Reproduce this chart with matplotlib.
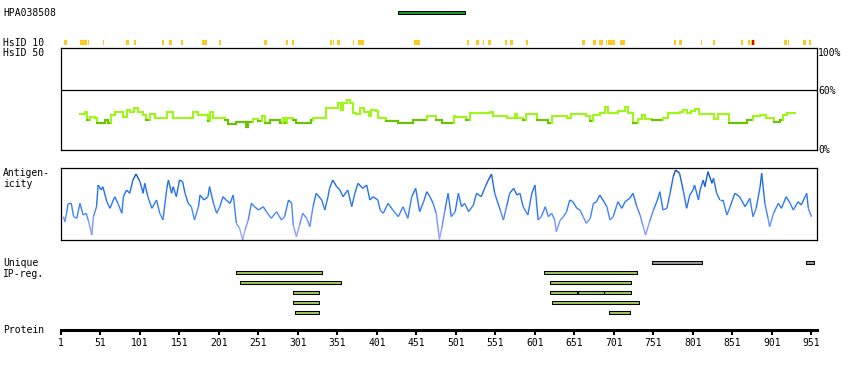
import matplotlib
matplotlib.use("Agg")
import matplotlib.pyplot as plt
import numpy as np
from matplotlib.collections import LineCollection
from matplotlib.colors import LinearSegmentedColormap

plt.rcParams['font.family'] = ['DejaVu Sans Mono']

# ---- data ----
protein_len = 958
tick_res = [1, 51, 101, 151, 201, 251, 301, 351, 401, 451, 501, 551, 601, 651, 701, 751, 801, 851, 901, 951]

hpa_name = "HPA038508"
hpa_start, hpa_end = 427, 512

# HsID 10 marks (residue start, end)
hsid10_start = [5, 25, 35, 54, 83, 93, 129, 138, 153, 180, 201, 258, 286, 293, 341, 345, 350, 371, 377, 448,
                515, 526, 535, 541, 563, 570, 589, 660, 675, 682, 691, 694, 709, 777, 783, 811, 826, 862, 871,
                874, 916, 921, 940, 948]
hsid10_end = [8, 34, 36, 56, 87, 96, 131, 141, 155, 186, 203, 262, 288, 296, 344, 347, 354, 372, 384, 455,
              517, 530, 537, 545, 565, 573, 592, 664, 678, 687, 692, 702, 715, 779, 787, 813, 829, 864, 873,
              879, 920, 922, 944, 950]
hsid10_red_start = [260, 876]
hsid10_red_end = [261, 878]

# HsID 50 identity (%)
hsid50_res = [25, 31, 34, 38, 44, 46, 52, 57, 61, 64, 69, 76, 79, 84, 88, 94, 99, 105, 109, 114, 118, 120, 130,
              135, 139, 143, 164, 168, 175, 185, 187, 190, 194, 206, 209, 213, 219, 223, 230, 235, 238, 244,
              251, 256, 259, 263, 265, 274, 278, 282, 284, 287, 295, 299, 316, 318, 320, 333, 336, 350, 352,
              355, 358, 363, 367, 371, 375, 379, 384, 388, 391, 394, 400, 402, 411, 413, 426, 428, 445, 447,
              458, 464, 474, 476, 483, 498, 499, 500, 512, 514, 519, 540, 544, 548, 563, 565, 576, 578, 582,
              586, 590, 599, 603, 616, 618, 622, 637, 641, 647, 662, 666, 671, 675, 683, 690, 694, 700, 706,
              715, 719, 725, 732, 736, 740, 749, 761, 763, 770, 780, 784, 789, 793, 799, 803, 808, 822, 827,
              833, 843, 846, 865, 869, 877, 886, 894, 903, 911, 915, 920, 930]
hsid50_val = [35.7, 38.3, 30, 32.7, 31.7, 27.3, 27.3, 30, 27.3, 35, 38.3, 38.3, 33.3, 40, 37.7, 42.3, 37.7, 35,
              30, 36.3, 35.7, 31.7, 31.7, 38.3, 38.3, 31.7, 31.7, 38.3, 34.7, 34.7, 29, 38.3, 31.7, 31.7, 30,
              25.7, 25.7, 28, 28, 23.3, 27.7, 30.7, 29.3, 34, 27.3, 27.3, 30, 30, 27.3, 32.3, 27.3, 31.7, 30,
              27.3, 27.3, 30, 31.7, 31.7, 41.7, 42, 46.7, 40, 46.7, 50, 46.7, 37.3, 35.7, 41.7, 38.3, 37.7,
              34, 40, 39.3, 31.7, 31.7, 29.3, 29.3, 27.3, 27.3, 30, 30, 34.3, 34.3, 30, 27.3, 27.3, 34, 32.7,
              32.7, 30, 36.7, 36.7, 38.3, 34.3, 34.3, 31.7, 36, 31.7, 31.7, 30, 36, 36, 30, 30, 27.3, 34, 34,
              31.7, 36, 36, 34, 29.3, 35, 36.7, 42.7, 36.7, 37.3, 39.3, 42.7, 36.7, 27.3, 30.7, 35, 30.7, 30,
              30, 32.3, 36.7, 36.7, 38.3, 40, 36.7, 39.3, 40.7, 35.7, 35.7, 30.7, 36, 36, 27.3, 27.3, 30,
              34.3, 35, 31.7, 28.3, 30, 35, 36.7, 36.7]

# Antigenicity (pixel height inside the 72 px panel)
antig_res = [4, 6, 8, 10, 14, 17, 21, 25, 29, 33, 36, 40, 42, 46, 48, 52, 54, 59, 63, 69, 73, 78, 80, 84, 88,
             92, 96, 101, 105, 107, 111, 116, 122, 126, 130, 135, 137, 141, 143, 147, 151, 155, 158, 162, 166,
             170, 175, 177, 182, 187, 189, 194, 198, 202, 206, 210, 215, 219, 223, 227, 231, 234, 238, 242,
             246, 251, 257, 261, 267, 274, 280, 284, 289, 293, 295, 299, 303, 307, 312, 316, 320, 324, 331,
             335, 339, 341, 345, 350, 354, 358, 364, 369, 373, 377, 383, 388, 392, 396, 402, 405, 409, 415,
             421, 428, 434, 440, 445, 450, 455, 460, 464, 468, 472, 476, 480, 483, 487, 491, 495, 500, 504,
             508, 512, 517, 523, 527, 533, 538, 542, 546, 550, 557, 561, 565, 569, 574, 578, 582, 586, 592,
             597, 601, 605, 609, 614, 618, 622, 626, 628, 633, 637, 641, 645, 649, 654, 658, 662, 666, 671,
             675, 679, 683, 687, 692, 696, 700, 706, 711, 715, 721, 725, 730, 734, 738, 741, 746, 751, 756,
             759, 763, 768, 772, 776, 779, 784, 789, 793, 797, 801, 803, 808, 810, 814, 816, 820, 825, 827,
             831, 835, 839, 844, 848, 854, 860, 867, 873, 877, 881, 886, 888, 892, 896, 898, 903, 909, 913,
             919, 924, 928, 934, 938, 945, 947, 951]
antig_val = [23.3, 18.3, 26.7, 36.7, 36.7, 23.3, 21.7, 36.7, 25, 26.7, 18.3, 5, 23.3, 33.3, 55, 50, 53.3, 38.3,
             31.7, 43.3, 36.7, 26.7, 43.3, 50, 46.7, 60, 66, 58.3, 46.7, 56.7, 43.3, 31.7, 40, 26.7, 20, 51.7,
             60, 46.7, 53.3, 43.3, 60, 58.3, 46.7, 36.7, 33.3, 20, 33.3, 45, 40, 43.3, 53.3, 36.7, 26.7, 33.3,
             43.3, 40, 36.7, 45, 16.7, 11.7, 0, 10, 20, 36.7, 33.3, 30, 33.3, 28.3, 21.7, 28.3, 20, 23.3, 40,
             36.7, 15, 3.3, 15, 26.7, 21.7, 13.3, 33.3, 46.7, 40, 30, 43.3, 51.7, 60, 53.3, 50, 43.3, 50, 33.3,
             46.7, 56.7, 51.7, 55, 40, 43.3, 40, 30, 26.7, 36.7, 30, 23.3, 33.3, 21.7, 43.3, 51.7, 28.3, 38.3,
             48.3, 43.3, 36.7, 26.7, 0.7, 11.7, 30, 46.7, 23.3, 28.3, 46.7, 33.3, 36.7, 28.3, 35, 46.7, 43.3,
             53.3, 60, 66, 46.7, 30, 20, 33.3, 46.7, 51.7, 45, 46.7, 33.3, 25, 46.7, 55, 20, 23.3, 33.3, 23.3,
             26.7, 20, 8.3, 20, 23.3, 28.3, 40, 38.3, 31.7, 30, 23.3, 16.7, 21.7, 36.7, 38.3, 45, 40, 33.3, 20,
             23.3, 38.3, 31.7, 38.3, 41.7, 46.7, 33.3, 25, 13.3, 5, 18.3, 30, 40, 48.3, 30, 31.7, 46.7, 63.3,
             70, 66.7, 48.3, 31.7, 45, 50, 55, 40, 50, 60, 53.3, 68.3, 56.7, 61.7, 46.7, 40, 40, 25, 33.3,
             46.7, 43.3, 33.3, 41.7, 23.3, 31.7, 53.3, 66.7, 36.7, 21.7, 13.3, 26.7, 36.7, 31.7, 43.3, 36.7,
             30, 38.3, 35, 46.7, 31.7, 23.3]

# Unique IP regions: row, start, end, kind
ip_row = [0, 0, 1, 1, 2, 2, 3, 3, 3, 3, 4, 4, 5, 5]
ip_start = [749, 944, 222, 613, 227, 620, 295, 620, 655, 689, 295, 622, 297, 695]
ip_end = [813, 954, 332, 730, 356, 723, 328, 654, 689, 723, 328, 733, 327, 721]
ip_kind = ['gray', 'gray'] + ['green'] * 12

# ---- layout helpers (pixel coordinates) ----
W, H = 850, 370
fig = plt.figure(figsize=(W / 100, H / 100), dpi=100)
X0, XW = 61, 756


def px_axes(top, height):
    ax = fig.add_axes([X0 / W, 1 - (top + height) / H, XW / W, height / H])
    ax.set_xlim(1, protein_len)
    return ax


def label(x, y, s, **kw):
    fig.text(x / W, 1 - y / H, s, fontsize=7, va='center', ha='left', **kw)


# top strip: antibody bar + HsID 10
ax0 = px_axes(0, 48)
ax0.set_ylim(48, 0)
ax0.axis('off')
ax0.broken_barh([(hpa_start, hpa_end - hpa_start)], (10.8, 3), facecolor='#1d9c1d', edgecolor='black', lw=0.75)
ax0.broken_barh([(s, max(e - s, 0.8)) for s, e in zip(hsid10_start, hsid10_end)], (40, 5),
                facecolor='#ffc81e', edgecolor='none')
ax0.broken_barh([(s, e - s) for s, e in zip(hsid10_red_start, hsid10_red_end)], (40, 5),
                facecolor='#e00000', edgecolor='none')

# HsID 50 panel (stepped line, darker green where identity is low)
ax1 = px_axes(48, 102)
ax1.set_ylim(0, 102)
ax1.set_xticks([])
ax1.set_yticks([])
for sp in ax1.spines.values():
    sp.set_linewidth(0.9)
ax1.axhline(60, color='black', lw=0.9)
segs, cols = [], []
for i in range(len(hsid50_res) - 1):
    r0, r1 = hsid50_res[i], hsid50_res[i + 1]
    v0, v1 = hsid50_val[i], hsid50_val[i + 1]
    c = '#66c400' if v0 <= 30.5 else '#a0f51a'
    segs.append([(r0, v0), (r1, v0)])
    cols.append(c)
    segs.append([(r1, v0), (r1, v1)])
    cols.append('#66c400' if max(v0, v1) <= 30.5 else '#a0f51a')
ax1.add_collection(LineCollection(segs, colors=cols, linewidths=1.5, capstyle='projecting'))

# antigenicity panel
ax2 = px_axes(168, 72)
ax2.set_ylim(0, 72)
ax2.set_xticks([])
ax2.set_yticks([])
for sp in ax2.spines.values():
    sp.set_linewidth(0.9)
cmap = LinearSegmentedColormap.from_list('ag', ['#b0a8ff', '#6a90ff', '#2a78f2', '#1f6ee8', '#0048a0'])
pts = np.column_stack([antig_res, antig_val])
segs = np.stack([pts[:-1], pts[1:]], axis=1)
lc = LineCollection(segs, cmap=cmap, linewidths=1.0)
lc.set_array((pts[:-1, 1] + pts[1:, 1]) / 2)
lc.set_clim(0, 72)
ax2.add_collection(lc)

# unique IP regions
ax3 = px_axes(255, 62)
ax3.set_ylim(62, 0)
ax3.axis('off')
for r, s, e, k in zip(ip_row, ip_start, ip_end, ip_kind):
    fc = '#999999' if k == 'gray' else '#9fc65c'
    ax3.broken_barh([(s, e - s)], (5.8 + 10 * r, 3), facecolor=fc, edgecolor='black', lw=0.75)

# protein axis
ax4 = px_axes(320, 9.5)
for name in ['top', 'left', 'right']:
    ax4.spines[name].set_visible(False)
ax4.spines['bottom'].set_linewidth(2.2)
ax4.set_yticks([])
ax4.set_xticks(tick_res)
ax4.set_xticklabels([str(t) for t in tick_res])
ax4.tick_params(axis='x', length=3.5, width=1.5, pad=2.5, labelsize=7)
ax4.patch.set_visible(False)

# left and right labels
label(3, 13, hpa_name)
label(3, 42.5, "HsID 10")
label(3, 52.5, "HsID 50")
label(3, 173.5, "Antigen-")
label(3, 184, "icity")
label(3, 263.5, "Unique")
label(3, 274, "IP-reg.")
label(3, 330, "Protein")
label(818, 53, "100%")
label(818, 90.5, "60%")
label(818, 150.5, "0%")

fig.savefig("out.png", dpi=100)
